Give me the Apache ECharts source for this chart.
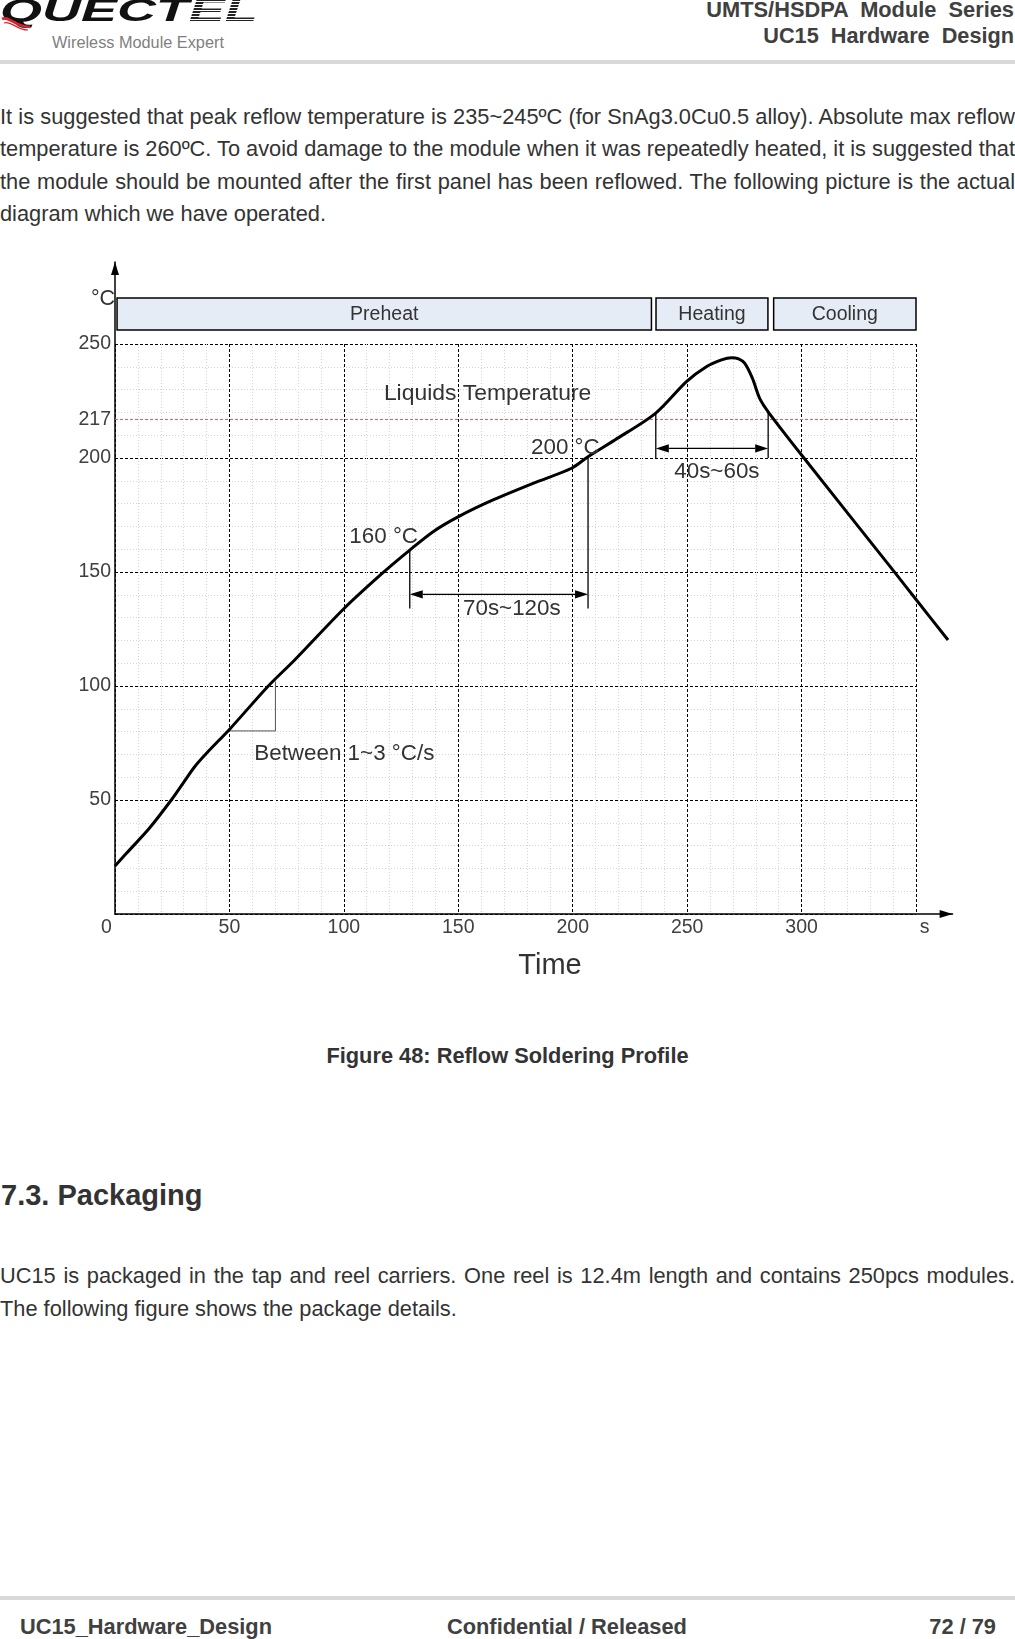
<!DOCTYPE html>
<html>
<head>
<meta charset="utf-8">
<script src="https://cdn.jsdelivr.net/npm/echarts@6/dist/echarts.min.js"></script>
<style>
html,body{margin:0;padding:0;background:#fff;}
body{width:1015px;height:1639px;position:relative;overflow:hidden;font-family:"Liberation Sans",Arial,sans-serif;color:#333;}
.abs{position:absolute;white-space:pre;}
.line{position:absolute;left:0;width:1015px;white-space:nowrap;font-size:21.8px;color:#333;}
.j{text-align:justify;text-align-last:justify;white-space:normal;word-spacing:-3px;}
.hdr{position:absolute;right:1px;font-weight:bold;line-height:24px;color:#404040;white-space:pre;}
.foot{position:absolute;top:1612px;font-weight:bold;font-size:21.8px;line-height:30px;color:#404040;white-space:pre;}
.rule{position:absolute;left:0;width:1015px;height:4px;background:#d9d9d9;}
.stripe{background:repeating-linear-gradient(180deg,#222 0 2px,#fff 2px 3px);-webkit-background-clip:text;background-clip:text;color:transparent;}
#chart{position:absolute;left:0;top:0;width:1015px;height:1639px;}
</style>
</head>
<body>
<!-- header -->
<div class="abs" style="left:0;top:-5px;font:italic bold 31px/32px 'Liberation Sans',Arial,sans-serif;color:#111;transform:scaleX(1.74);transform-origin:0 0;">QUECT<span class="stripe">EL</span></div>
<svg class="abs" style="left:0;top:14px" width="40" height="20"><path d="M2,5 C9,1 14,13 30,13" stroke="#d9232a" stroke-width="2.6" fill="none"/><path d="M4,9 C11,6 16,16 28,16" stroke="#d9232a" stroke-width="1.2" fill="none"/></svg>
<div class="abs" style="left:52px;top:32px;font-size:16.3px;line-height:20px;color:#7f7f7f;">Wireless Module Expert</div>
<div class="hdr" style="top:-2px;font-size:21.8px;">UMTS/HSDPA  Module  Series</div>
<div class="hdr" style="top:23.5px;font-size:21.7px;">UC15  Hardware  Design</div>
<div class="rule" style="top:60px;"></div>

<!-- paragraph -->
<div class="line j" style="top:100.8px;height:32.4px;line-height:32.4px;">It is suggested that peak reflow temperature is 235~245ºC (for SnAg3.0Cu0.5 alloy). Absolute max reflow</div>
<div class="line j" style="top:133.2px;height:32.4px;line-height:32.4px;">temperature is 260ºC. To avoid damage to the module when it was repeatedly heated, it is suggested that</div>
<div class="line j" style="top:165.6px;height:32.4px;line-height:32.4px;">the module should be mounted after the first panel has been reflowed. The following picture is the actual</div>
<div class="line" style="top:198px;height:32.4px;line-height:32.4px;">diagram which we have operated.</div>

<!-- caption and section -->
<div class="line" style="top:1040.8px;line-height:30px;text-align:center;font-weight:bold;color:#333;">Figure 48: Reflow Soldering Profile</div>
<div class="abs" style="left:1px;top:1177px;font-size:29px;line-height:36px;font-weight:bold;color:#333;">7.3. Packaging</div>
<div class="line j" style="top:1258.6px;height:33.4px;line-height:33.4px;">UC15 is packaged in the tap and reel carriers. One reel is 12.4m length and contains 250pcs modules.</div>
<div class="line" style="top:1292px;height:33.4px;line-height:33.4px;">The following figure shows the package details.</div>

<!-- footer -->
<div class="rule" style="top:1596px;"></div>
<div class="foot" style="left:20px;">UC15_Hardware_Design</div>
<div class="foot" style="left:447px;">Confidential / Released</div>
<div class="foot" style="right:19px;">72 / 79</div>

<div id="chart"></div>
<script>
// ---------------- data ----------------
const xTicks = [0, 50, 100, 150, 200, 250, 300, 350];
const yTickLabels = [50, 100, 150, 200, 217, 250];
const liquidusTemp = 217;

// reflow profile curve (time s, temperature °C)
const curveTime = [0, 5, 15, 24.6, 29.7, 34.8, 40, 50.4, 67, 78.5, 100.1, 117.1, 128.8, 139, 150.1, 165.2, 182.7, 199.5, 206.7, 218.4, 236.3, 249.7, 258.4, 265, 269.4, 272.5, 275.2, 278.5, 281.8, 285.8, 300, 340.8, 350.2, 364];
const curveTemp = [21, 26.6, 37.6, 50, 57.3, 64.6, 70.5, 81.4, 100, 111.4, 134, 149.7, 159.6, 167.7, 174.3, 181.6, 188.9, 195.5, 200.6, 207.9, 219.7, 233.5, 240, 243, 244, 243.5, 241.5, 235, 225.9, 219.7, 201.3, 149.7, 137.7, 120.2];

// slope indicator ("Between 1~3 °C/s")
const slopeTime = [49.4, 70.1, 70.1];
const slopeTemp = [80.3, 80.3, 102];

// duration brackets
const spanLabels = ['70s~120s', '40s~60s'];
const spanStart = [128.8, 236.3];
const spanEnd = [206.7, 285.4];
const spanTopStart = [159.6, 219.7];
const spanTopEnd = [200.6, 219.7];
const spanBottom = [134, 200];
const spanArrowTemp = [140.2, 204.2];
const spanLabelTime = [173.4, 263];
const spanLabelTemp = [133.9, 193.8];

// phases
const phaseNames = ['Preheat', 'Heating', 'Cooling'];
const phaseStart = [0.9, 236.4, 287.8];
const phaseEnd = [234.4, 285.3, 350];

// text notes
const noteText = ['Liquids Temperature', '160 °C', '200 °C', 'Between 1~3 °C/s'];
const noteTime = [162.8, 117.4, 196.8, 100.2];
const noteTemp = [228.3, 165.5, 204.4, 70.4];

// ---------------- chart ----------------
const FONT = '"Liberation Sans", Arial, sans-serif';
const TXT = '#333';
const PX_X = 801 / 350;   // px per second (shared by both grids)
const PX_Y = 570 / 250;   // px per °C (shared by both grids)
const AX_X_MAX = 366, AX_Y_MAX = 286; // extent of the arrowed axes
const chart = echarts.init(document.getElementById('chart'), null, {renderer: 'canvas'});

const option = {
  animation: false,
  backgroundColor: 'transparent',
  textStyle: {fontFamily: FONT},
  grid: [
    {left: 115, top: 344, width: 801, height: 570},
    {left: 115, top: 914 - AX_Y_MAX * PX_Y, width: AX_X_MAX * PX_X, height: AX_Y_MAX * PX_Y}
  ],
  xAxis: [
    {
      gridIndex: 0, type: 'value', min: 0, max: 350, interval: 50,
      axisLine: {show: false}, axisTick: {show: false},
      axisLabel: {
        fontSize: 19.5, color: '#404040', margin: 4, fontFamily: FONT,
        formatter: v => v === 0 ? '{z|0}' : (v === 350 ? '{u|s}' : String(v)),
        rich: {
          z: {fontSize: 19.5, color: '#404040', fontFamily: FONT, padding: [0, 17, 0, 0]},
          u: {fontSize: 19.5, color: '#404040', fontFamily: FONT, padding: [0, 0, 0, 17]}
        }
      },
      splitLine: {show: true, lineStyle: {color: '#000', width: 1, type: [3, 2]}},
      minorTick: {show: false, splitNumber: 5},
      minorSplitLine: {show: true, lineStyle: {color: '#d4d4d4', width: 1, type: [1, 2]}},
      name: 'Time', nameLocation: 'middle', nameGap: 52,
      nameTextStyle: {fontSize: 29, color: TXT, fontFamily: FONT, verticalAlign: 'middle', padding: [0, 0, 0, 69]}
    },
    {
      gridIndex: 1, type: 'value', min: 0, max: AX_X_MAX,
      axisLine: {show: true, lineStyle: {color: '#000', width: 1.5}, symbol: ['none', 'triangle'], symbolSize: [8, 13], symbolOffset: [0, -6.5]},
      axisTick: {show: false}, axisLabel: {show: false}, splitLine: {show: false}
    }
  ],
  yAxis: [
    {
      gridIndex: 0, type: 'value', min: 0, max: 250, interval: 50,
      axisLine: {show: false}, axisTick: {show: false},
      axisLabel: {
        fontSize: 19.5, color: '#404040', margin: 4, fontFamily: FONT,
        customValues: yTickLabels,
        formatter: v => (v === 0 ? '' : String(v))
      },
      splitLine: {show: true, lineStyle: {color: '#000', width: 1, type: [3, 2]}},
      minorTick: {show: false, splitNumber: 5},
      minorSplitLine: {show: true, lineStyle: {color: '#d4d4d4', width: 1, type: [1, 2]}}
    },
    {
      gridIndex: 1, type: 'value', min: 0, max: AX_Y_MAX,
      axisLine: {show: true, lineStyle: {color: '#000', width: 1.5}, symbol: ['none', 'triangle'], symbolSize: [8, 13], symbolOffset: [0, -6.5]},
      axisTick: {show: false}, axisLabel: {show: false}, splitLine: {show: false},
      name: '°C', nameLocation: 'end', nameGap: -37,
      nameTextStyle: {fontSize: 21.5, color: TXT, fontFamily: FONT, align: 'right', verticalAlign: 'middle', padding: [0, 0, 0, 0]}
    }
  ],
  series: [
    {
      name: 'Profile', type: 'line', xAxisIndex: 1, yAxisIndex: 1,
      data: curveTime.map((t, i) => [t, curveTemp[i]]),
      smooth: 0.3, showSymbol: false, symbol: 'none', clip: false, z: 5,
      lineStyle: {color: '#000', width: 3}
    },
    {
      name: 'Slope', type: 'line', xAxisIndex: 0, yAxisIndex: 0,
      data: slopeTime.map((t, i) => [t, slopeTemp[i]]),
      showSymbol: false, symbol: 'none', clip: false, z: 4,
      lineStyle: {color: '#555', width: 1},
      markLine: {
        silent: true, symbol: 'none', label: {show: false},
        lineStyle: {color: '#ff5252', width: 1, type: [3, 2]},
        data: [{yAxis: liquidusTemp}]
      }
    },
    {
      name: 'Spans', type: 'custom', xAxisIndex: 0, yAxisIndex: 0, clip: false, z: 6,
      data: spanLabels.map((_, i) => [spanStart[i], spanArrowTemp[i]]),
      renderItem: function (params, api) {
        const i = params.dataIndex;
        const a = api.coord([spanStart[i], spanArrowTemp[i]]);
        const b = api.coord([spanEnd[i], spanArrowTemp[i]]);
        const t1 = api.coord([spanStart[i], spanTopStart[i]]);
        const t2 = api.coord([spanEnd[i], spanTopEnd[i]]);
        const b1 = api.coord([spanStart[i], spanBottom[i]]);
        const b2 = api.coord([spanEnd[i], spanBottom[i]]);
        const L = 13, H = 4.2;
        const st = {stroke: '#000', lineWidth: 1.3};
        return {type: 'group', children: [
          {type: 'line', shape: {x1: t1[0], y1: t1[1], x2: b1[0], y2: b1[1]}, style: st},
          {type: 'line', shape: {x1: t2[0], y1: t2[1], x2: b2[0], y2: b2[1]}, style: st},
          {type: 'line', shape: {x1: a[0] + L, y1: a[1], x2: b[0] - L, y2: b[1]}, style: st},
          {type: 'polygon', shape: {points: [[a[0], a[1]], [a[0] + L, a[1] - H], [a[0] + L, a[1] + H]]}, style: {fill: '#000'}},
          {type: 'polygon', shape: {points: [[b[0], b[1]], [b[0] - L, b[1] - H], [b[0] - L, b[1] + H]]}, style: {fill: '#000'}}
        ]};
      }
    },
    {
      name: 'Phases', type: 'custom', xAxisIndex: 0, yAxisIndex: 0, clip: false, z: 6,
      data: phaseNames.map((_, i) => [phaseStart[i], 250]),
      renderItem: function (params, api) {
        const i = params.dataIndex;
        const p0 = api.coord([phaseStart[i], 250]);
        const p1 = api.coord([phaseEnd[i], 250]);
        const top = p0[1] - 46, h = 32;
        return {type: 'group', children: [
          {type: 'rect', shape: {x: p0[0], y: top, width: p1[0] - p0[0], height: h},
            style: {fill: '#e6ecf6', stroke: '#000', lineWidth: 1.5}},
          {type: 'text', x: (p0[0] + p1[0]) / 2, y: top + h / 2 + 1,
            style: {text: phaseNames[i], fill: TXT, fontSize: 19.5, fontFamily: FONT, align: 'center', verticalAlign: 'middle'}}
        ]};
      }
    },
    {
      name: 'Notes', type: 'custom', xAxisIndex: 0, yAxisIndex: 0, clip: false, z: 7,
      data: noteText.map((_, i) => [noteTime[i], noteTemp[i]]).concat(spanLabels.map((_, i) => [spanLabelTime[i], spanLabelTemp[i]])),
      renderItem: function (params, api) {
        const i = params.dataIndex;
        const isNote = i < noteText.length;
        const txt = isNote ? noteText[i] : spanLabels[i - noteText.length];
        const p = api.coord([api.value(0), api.value(1)]);
        return {type: 'text', x: p[0], y: p[1],
          style: {text: txt, fill: TXT, fontSize: i === 0 ? 22.9 : 22.4, fontFamily: FONT, align: 'center', verticalAlign: 'middle'}};
      }
    }
  ]
};
chart.setOption(option);
</script>
</body>
</html>
